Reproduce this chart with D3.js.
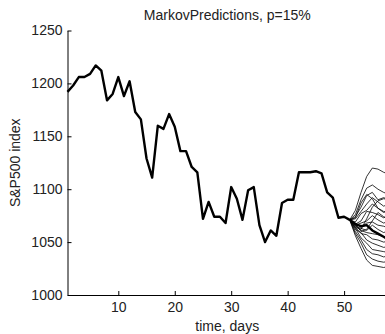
<!DOCTYPE html>
<html>
<head>
<meta charset="utf-8">
<script src="https://cdn.jsdelivr.net/npm/d3@7"></script>
<style>
  body { margin: 0; background: #fff; }
  svg text { font-family: "Liberation Sans", Arial, sans-serif; fill: #222; }
  .axis path, .axis line { stroke: #000; }
</style>
</head>
<body>
<div id="chart"></div>
<script>
// S&P500 closing index, one value per day (day 1 .. 58)
const observed = [
  1192, 1198, 1206, 1206, 1209, 1217, 1212, 1184, 1190, 1206,
  1188, 1202, 1173, 1166, 1129, 1111, 1160, 1157, 1171, 1159,
  1136, 1136, 1121, 1116, 1072, 1088, 1074, 1074, 1068, 1102,
  1091, 1071, 1099, 1102, 1066, 1050, 1061, 1056, 1087, 1090,
  1090, 1116, 1116, 1116, 1117, 1115, 1097, 1092, 1073, 1074,
  1071, 1067, 1065, 1066, 1061, 1058, 1055, 1052
];

// Markov chain predictions, all starting at day 51
const predictionStart = 51;
const predictions = [
  [1071, 1080, 1097, 1112, 1120, 1119, 1116, 1114],
  [1071, 1076, 1090, 1101, 1104, 1100, 1097, 1095],
  [1071, 1074, 1083, 1094, 1097, 1090, 1092, 1090],
  [1071, 1072, 1079, 1086, 1092, 1088, 1084, 1086],
  [1071, 1069, 1077, 1080, 1086, 1082, 1078, 1080],
  [1071, 1067, 1070, 1079, 1078, 1076, 1073, 1075],
  [1071, 1066, 1068, 1070, 1075, 1071, 1068, 1070],
  [1071, 1068, 1064, 1068, 1069, 1066, 1065, 1063],
  [1071, 1065, 1063, 1061, 1066, 1062, 1059, 1061],
  [1071, 1066, 1061, 1059, 1058, 1057, 1055, 1054],
  [1071, 1064, 1058, 1057, 1053, 1052, 1050, 1051],
  [1071, 1062, 1059, 1052, 1049, 1047, 1045, 1046],
  [1071, 1063, 1054, 1049, 1043, 1042, 1041, 1040],
  [1071, 1060, 1052, 1043, 1039, 1038, 1036, 1037],
  [1071, 1058, 1049, 1038, 1034, 1032, 1031, 1032],
  [1071, 1056, 1044, 1033, 1028, 1027, 1026, 1027],
  [1071, 1073, 1087, 1095, 1091, 1082, 1079, 1078],
  [1071, 1064, 1062, 1072, 1083, 1089, 1091, 1090],
  [1071, 1067, 1060, 1062, 1070, 1078, 1074, 1072]
];

const xTicks = [10, 20, 30, 40, 50];
const yTicks = [1000, 1050, 1100, 1150, 1200, 1250];

const width = 385;
const height = 334;
const plot = {left: 67.5, right: 387, top: 30.5, bottom: 295};

const svg = d3.select('#chart')
  .append('svg')
  .attr('width', width)
  .attr('height', height);

const x = d3.scaleLinear().domain([1, 57.6]).range([plot.left, plot.right]);
const y = d3.scaleLinear().domain([1000, 1250]).range([plot.bottom, plot.top]);

const line = d3.line()
  .x(d => x(d[0]))
  .y(d => y(d[1]));

// prediction fan (thin lines)
svg.append('g')
  .selectAll('path')
  .data(predictions)
  .enter()
  .append('path')
  .attr('d', p => line(p.map((v, i) => [predictionStart + i, v])))
  .attr('fill', 'none')
  .attr('stroke', '#000')
  .attr('stroke-width', 0.8);

// observed index (thick line)
svg.append('path')
  .attr('d', line(observed.map((v, i) => [i + 1, v])))
  .attr('fill', 'none')
  .attr('stroke', '#000')
  .attr('stroke-width', 2.4)
  .attr('stroke-linejoin', 'round');

// axes, ticks pointing inwards
svg.append('g')
  .attr('class', 'axis')
  .attr('transform', `translate(0, ${plot.bottom})`)
  .call(d3.axisBottom(x).tickValues(xTicks).tickFormat(d3.format('d'))
    .tickSizeInner(-4).tickSizeOuter(0).tickPadding(7));

svg.append('g')
  .attr('class', 'axis')
  .attr('transform', `translate(${plot.left}, 0)`)
  .call(d3.axisLeft(y).tickValues(yTicks).tickFormat(d3.format('d'))
    .tickSizeInner(-4).tickSizeOuter(0).tickPadding(5));

svg.selectAll('.axis text')
  .style('font-size', '14px')
  .style('font-family', '"Liberation Sans", Arial, sans-serif')
  .attr('fill', '#222');

// title and labels
svg.append('text')
  .attr('x', (plot.left + plot.right) / 2)
  .attr('y', 20)
  .attr('text-anchor', 'middle')
  .style('font-size', '14px')
  .text('MarkovPredictions, p=15%');

svg.append('text')
  .attr('x', (plot.left + plot.right) / 2)
  .attr('y', 331)
  .attr('text-anchor', 'middle')
  .style('font-size', '14px')
  .text('time, days');

svg.append('text')
  .attr('transform', `translate(20, ${(plot.top + plot.bottom) / 2}) rotate(-90)`)
  .attr('text-anchor', 'middle')
  .style('font-size', '14px')
  .text('S&P500 index');
</script>
</body>
</html>
